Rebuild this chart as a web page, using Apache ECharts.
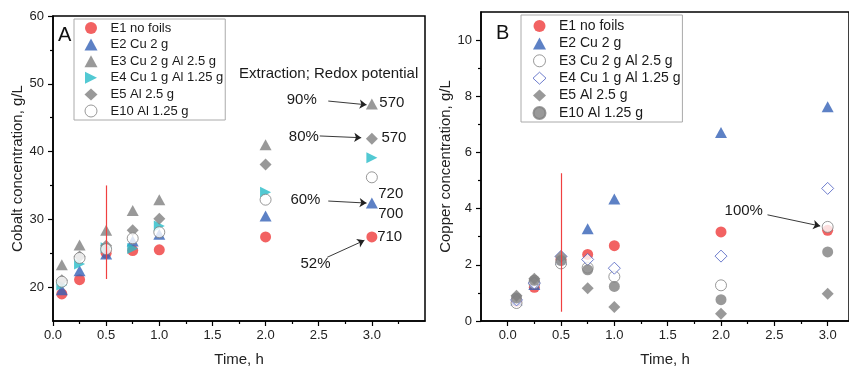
<!DOCTYPE html>
<html><head><meta charset="utf-8">
<script src="https://cdn.jsdelivr.net/npm/echarts@6/dist/echarts.min.js"></script>
<style>html,body{margin:0;padding:0;background:#fff;overflow:hidden}#c{width:849px;height:372px}</style>
</head><body><div id="c"></div>
<script>
// ---------- data ----------
const times = [0.083, 0.25, 0.5, 0.75, 1, 2, 3];
const seriesNames = ['E1 no foils', 'E2 Cu 2 g', 'E3 Cu 2 g Al 2.5 g', 'E4 Cu 1 g Al 1.25 g', 'E5 Al 2.5 g', 'E10 Al 1.25 g'];

const cobaltE1  = [19.0, 21.1, 25.0, 25.4, 25.5, 27.4, 27.4];
const cobaltE2  = [19.6, 22.4, 24.9, 26.8, 27.8, 30.5, 32.4];
const cobaltE3  = [23.3, 26.2, 28.4, 31.3, 32.9, 41.0, 47.0];
const cobaltE4  = [20.3, 23.4, 25.8, 25.7, 29.0, 34.0, 39.1];
const cobaltE5  = [21.0, 24.5, 26.1, 28.4, 30.1, 38.1, 41.9];
const cobaltE10 = [20.8, 24.3, 25.6, 27.2, 28.1, 32.9, 36.2];

const copperE1  = [0.70, 1.20, 2.20, 2.37, 2.68, 3.17, 3.23];
const copperE2  = [0.75, 1.30, 2.20, 3.28, 4.34, 6.71, 7.63];
const copperE3  = [0.64, 1.35, 2.05, 1.90, 1.58, 1.27, 3.35];
const copperE4  = [0.75, 1.35, 2.30, 2.19, 1.88, 2.31, 4.72];
const copperE5  = [0.90, 1.50, 2.30, 1.17, 0.50, 0.26, 0.97];
const copperE10 = [0.82, 1.45, 2.15, 1.82, 1.23, 0.76, 2.46];

const timeTicks = [0, 0.5, 1, 1.5, 2, 2.5, 3];
const timeMinorTicks = [0.25, 0.75, 1.25, 1.75, 2.25, 2.75, 3.25];
const cobaltTicks = [20, 30, 40, 50, 60];
const cobaltMinorTicks = [25, 35, 45, 55];
const copperTicks = [0, 2, 4, 6, 8, 10];
const copperMinorTicks = [1, 3, 5, 7, 9];

// annotation texts
const cobaltExtraction = ['90%', '80%', '60%', '52%'];
const cobaltRedox = ['570', '570', '720', '700', '710'];
const copperExtraction = ['100%'];
const redoxHeader = 'Extraction; Redox potential';

// ---------- styles ----------
const FONT = 'Liberation Sans, Arial, sans-serif';
const RED = '#EF3B3B', BLUE = '#3561B6', GRAY = '#808080', CYAN = '#27BCC8', BLUE2 = '#4A5DC0';
const RIGHT_TRI = 'path://M0,0L10,5L0,10Z';

const styleA = [
  {symbol: 'circle', size: 11, item: {color: RED}},
  {symbol: 'triangle', size: [12, 11], item: {color: BLUE}},
  {symbol: 'triangle', size: [12, 11], item: {color: GRAY}},
  {symbol: RIGHT_TRI, size: [11, 11], item: {color: CYAN}},
  {symbol: 'diamond', size: 12, item: {color: GRAY}},
  {symbol: 'circle', size: 11, item: {color: '#fff', borderColor: GRAY, borderWidth: 1}}
];
const styleB = [
  {symbol: 'circle', size: 11, item: {color: RED}},
  {symbol: 'triangle', size: [12, 11], item: {color: BLUE}},
  {symbol: 'circle', size: 11, item: {color: '#fff', borderColor: GRAY, borderWidth: 1}},
  {symbol: 'diamond', size: 12, item: {color: '#fff', borderColor: BLUE2, borderWidth: 1}},
  {symbol: 'diamond', size: 12, item: {color: GRAY}},
  {symbol: 'circle', size: 11, item: {color: GRAY}}
];

const cobaltData = [cobaltE1, cobaltE2, cobaltE3, cobaltE4, cobaltE5, cobaltE10];
const copperData = [copperE1, copperE2, copperE3, copperE4, copperE5, copperE10];

function pairs(vals) { return times.map((t, i) => [t, vals[i]]); }

const tickLbl = {color: '#222', fontSize: 13, fontFamily: FONT};
const axisLine = {show: true, onZero: false, lineStyle: {color: '#000', width: 1.5}};

function majorX(gi, min, max) {
  return {type: 'value', gridIndex: gi, min, max, position: 'bottom',
    axisLine, splitLine: {show: false},
    axisTick: {show: true, customValues: timeTicks, length: 5, inside: false, lineStyle: {color: '#000', width: 1.2}},
    axisLabel: {show: true, customValues: timeTicks, margin: 8, ...tickLbl, formatter: v => v.toFixed(1)},
    name: 'Time, h', nameLocation: 'middle', nameGap: 31,
    nameTextStyle: {fontSize: 15, color: '#222', fontFamily: FONT}};
}
function minorAxis(gi, min, max, vals, pos) {
  return {type: 'value', gridIndex: gi, min, max, position: pos,
    axisLine: {show: false, onZero: false}, splitLine: {show: false}, axisLabel: {show: false},
    axisTick: {show: true, customValues: vals, length: 3, lineStyle: {color: '#000', width: 1.2}}};
}
function majorY(gi, min, max, ticks, name, gap) {
  return {type: 'value', gridIndex: gi, min, max, position: 'left',
    axisLine, splitLine: {show: false},
    axisTick: {show: true, customValues: ticks, length: 5, lineStyle: {color: '#000', width: 1.2}},
    axisLabel: {show: true, customValues: ticks, margin: 9, ...tickLbl},
    name, nameLocation: 'middle', nameGap: gap,
    nameTextStyle: {fontSize: 15, color: '#222', fontFamily: FONT}};
}

const series = [];
seriesNames.forEach((n, i) => {
  series.push({type: 'scatter', name: n, xAxisIndex: 0, yAxisIndex: 0,
    symbol: styleA[i].symbol, symbolSize: styleA[i].size, itemStyle: styleA[i].item,
    data: pairs(cobaltData[i]), z: 3});
});
seriesNames.forEach((n, i) => {
  series.push({type: 'scatter', name: n, xAxisIndex: 1, yAxisIndex: 1,
    symbol: styleB[i].symbol, symbolSize: styleB[i].size, itemStyle: styleB[i].item,
    data: pairs(copperData[i]), z: 3});
});

const arrowStyle = {color: '#222', width: 0.9, type: 'solid'};
function arrow(a, b) { return [{coord: a, symbol: 'none'}, {coord: b, symbol: 'arrow', symbolSize: 7}]; }
function txt(t, c, align) { return {coord: c, value: t, label: {formatter: t, align: align || 'center'}}; }
const markLbl = {show: true, position: 'inside', color: '#1a1a1a', fontSize: 15, fontFamily: FONT, verticalAlign: 'middle'};

// panel A: red marker line at t = 0.5 h, arrows and labels
series[0].markLine = {silent: true, symbol: 'none', label: {show: false}, animation: false,
  lineStyle: {color: '#F04040', width: 1.2, type: 'solid'},
  data: [[{coord: [0.5, 21.2]}, {coord: [0.5, 35]}]]};
series[1].markLine = {silent: true, label: {show: false}, animation: false, lineStyle: arrowStyle,
  data: [arrow([2.59, 47.45], [2.95, 46.9]), arrow([2.51, 42.3], [2.90, 42.04]),
         arrow([2.59, 32.7], [2.95, 32.4]), arrow([2.58, 24.4], [2.93, 26.9])]};
series[1].markPoint = {silent: true, symbol: 'circle', symbolSize: 0, animation: false, label: markLbl,
  data: [txt(cobaltExtraction[0], [2.34, 47.7]), txt(cobaltExtraction[1], [2.36, 42.2]),
         txt(cobaltExtraction[2], [2.375, 32.85]), txt(cobaltExtraction[3], [2.47, 23.4]),
         txt(cobaltRedox[0], [3.07, 47.15], 'left'), txt(cobaltRedox[1], [3.09, 42.04], 'left'),
         txt(cobaltRedox[2], [3.06, 33.7], 'left'), txt(cobaltRedox[3], [3.06, 30.8], 'left'),
         txt(cobaltRedox[4], [3.05, 27.45], 'left'), txt(redoxHeader, [1.75, 51.5], 'left')]};
// panel B
series[6].markLine = {silent: true, symbol: 'none', label: {show: false}, animation: false,
  lineStyle: {color: '#F04040', width: 1.2, type: 'solid'},
  data: [[{coord: [0.5, 0.33]}, {coord: [0.5, 5.26]}]]};
series[7].markLine = {silent: true, label: {show: false}, animation: false, lineStyle: arrowStyle,
  data: [arrow([2.436, 3.78], [2.93, 3.38])]};
series[7].markPoint = {silent: true, symbol: 'circle', symbolSize: 0, animation: false, label: markLbl,
  data: [txt(copperExtraction[0], [2.213, 3.92])]};

function legendData(st) {
  return seriesNames.map((n, i) => ({name: n, icon: st[i].symbol, itemStyle: st[i].item}));
}

const option = {
  animation: false,
  backgroundColor: '#fff',
  grid: [
    {left: 53, top: 16, width: 372, height: 307, show: true, borderColor: '#000', borderWidth: 1.5, containLabel: false},
    {left: 481, top: 12, width: 372, height: 311, show: true, borderColor: '#000', borderWidth: 1.5, containLabel: false}
  ],
  xAxis: [
    majorX(0, 0, 3.5),
    majorX(1, -0.25, 3.2),
    minorAxis(0, 0, 3.5, timeMinorTicks, 'bottom'),
    minorAxis(1, -0.25, 3.2, timeMinorTicks, 'bottom')
  ],
  yAxis: [
    majorY(0, 15, 60, cobaltTicks, 'Cobalt concentration, g/L', 28),
    majorY(1, 0, 11, copperTicks, 'Copper concentration, g/L', 28),
    minorAxis(0, 15, 60, cobaltMinorTicks, 'left'),
    minorAxis(1, 0, 11, copperMinorTicks, 'left')
  ],
  legend: [
    {orient: 'vertical', left: 74, top: 19, itemWidth: 13, itemHeight: 12, itemGap: 3.6,
     padding: [2.5, 2, 2.5, 10.5], borderColor: '#aaa', borderWidth: 1, selectedMode: false, symbolKeepAspect: true,
     textStyle: {fontSize: 13, lineHeight: 13, color: '#1a1a1a', fontFamily: FONT, padding: [0, 0, 0, 8]},
     data: legendData(styleA)},
    {orient: 'vertical', left: 521, top: 15, itemWidth: 13, itemHeight: 12, itemGap: 3.4,
     padding: [4, 2, 2, 11.5], borderColor: '#aaa', borderWidth: 1, selectedMode: false, symbolKeepAspect: true,
     textStyle: {fontSize: 14, lineHeight: 14, color: '#1a1a1a', fontFamily: FONT, padding: [0, 0, 0, 8]},
     data: legendData(styleB)}
  ],
  graphic: [
    {type: 'text', left: 58, top: 25, style: {text: 'A', font: '20px ' + FONT, fill: '#111'}},
    {type: 'text', left: 496, top: 23, style: {text: 'B', font: '20px ' + FONT, fill: '#111'}}
  ],
  series
};
const chart = echarts.init(document.getElementById('c'), null, {renderer: 'canvas'});
chart.setOption(option);
</script></body></html>
